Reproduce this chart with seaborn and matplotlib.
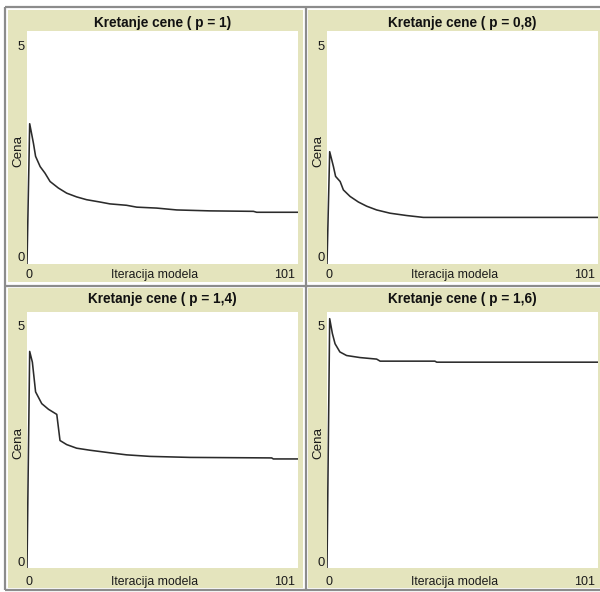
import matplotlib
matplotlib.use("Agg")
import matplotlib.pyplot as plt
from matplotlib.patches import Rectangle
import seaborn as sns

# ---- data: average price per model iteration for four values of p ----
iter_p10 = [0, 1, 2.4, 3.2, 4.9, 6.7, 8.6, 11.7, 14.8, 18.5, 22.2, 27.2, 30.9,
            37.1, 40.9, 48.3, 55.8, 68.2, 84.4, 85.6, 101]
price_p10 = [0, 3.01, 2.59, 2.31, 2.09, 1.95, 1.77, 1.63, 1.52, 1.44, 1.38, 1.33,
             1.29, 1.26, 1.22, 1.20, 1.16, 1.14, 1.13, 1.11, 1.11]

iter_p08 = [0, 1, 2.4, 3.2, 4.9, 6.1, 8.6, 11.7, 14.8, 18.5, 23.5, 29.7, 35.9, 101]
price_p08 = [0, 2.41, 2.09, 1.88, 1.77, 1.59, 1.45, 1.33, 1.24, 1.16, 1.09, 1.04,
             1.00, 1.00]

iter_p14 = [0, 1, 2.0, 3.2, 5.5, 8.0, 11.1, 12.3, 14.8, 18.5, 23.5, 30.9, 37.1,
            45.8, 60.7, 91.2, 91.8, 101]
price_p14 = [0, 4.23, 4.02, 3.44, 3.21, 3.10, 3.00, 2.49, 2.41, 2.34, 2.30, 2.25,
             2.21, 2.18, 2.16, 2.15, 2.13, 2.13]

iter_p16 = [0, 1, 2, 3, 4.8, 7.3, 12.3, 18.5, 19.8, 40.2, 40.9, 101]
price_p16 = [0, 4.87, 4.58, 4.38, 4.22, 4.15, 4.11, 4.08, 4.04, 4.04, 4.02, 4.02]

titles = ["Kretanje cene ( p = 1)", "Kretanje cene ( p = 0,8)",
          "Kretanje cene ( p = 1,4)", "Kretanje cene ( p = 1,6)"]
series = [(iter_p10, price_p10), (iter_p08, price_p08),
          (iter_p14, price_p14), (iter_p16, price_p16)]
x_range = [0, 101]
y_range = [0, 5]
x_label = "Iteracija modela"
y_label = "Cena"

# ---- style ----
sns.set_style("white")
plt.rcParams["font.family"] = ["Liberation Sans", "DejaVu Sans"]

W, H = 600, 592
PANEL_BG = "#e4e4bd"
FRAME = "#8c8c8c"
LINE = "#2b2b2b"
TXT = "#1a1a1a"

fig = plt.figure(figsize=(W / 100, H / 100), dpi=100)
fig.patch.set_facecolor("white")

# background canvas in pixel coordinates for frames and labels
bg = fig.add_axes([0, 0, 1, 1], zorder=0)
bg.set_xlim(0, W)
bg.set_ylim(H, 0)
bg.axis("off")

# frame lines between the plot widgets
for x in (5, 305.8):
    bg.plot([x, x], [7, 590], color=FRAME, lw=1.6, solid_capstyle="butt")
for y in (7, 285.8, 590):
    bg.plot([5, W], [y, y], color=FRAME, lw=1.6, solid_capstyle="butt")

# panel geometry: beige box, white plot area, text baselines
panels = [
    dict(box=(8, 10, 303, 282), area=(27, 31, 298, 264), t=27, xb=278, yb5=50, yb0=261, ylab=151),
    dict(box=(308, 10, 600, 282), area=(327, 31, 598, 264), t=27, xb=278, yb5=50, yb0=261, ylab=151),
    dict(box=(8, 288, 303, 588), area=(27, 312, 298, 568), t=303, xb=585, yb5=330, yb0=566, ylab=443),
    dict(box=(308, 288, 600, 588), area=(327, 312, 598, 568), t=303, xb=585, yb5=330, yb0=566, ylab=443),
]

for geo, title, (xs, ys) in zip(panels, titles, series):
    bx0, by0, bx1, by1 = geo["box"]
    bg.add_patch(Rectangle((bx0, by0), bx1 - bx0, by1 - by0,
                           facecolor=PANEL_BG, edgecolor="none"))
    ax0, ay0, ax1, ay1 = geo["area"]
    ax = fig.add_axes([ax0 / W, 1 - ay1 / H, (ax1 - ax0) / W, (ay1 - ay0) / H],
                      zorder=2)
    ax.set_facecolor("white")
    sns.lineplot(x=xs, y=ys, ax=ax, color=LINE, linewidth=1.15, sort=False)
    ax.set_xlim(*x_range)
    ax.set_ylim(*y_range)
    ax.set_xticks([])
    ax.set_yticks([])
    ax.set_xlabel("")
    ax.set_ylabel("")
    for s in ax.spines.values():
        s.set_visible(False)

    cx = (ax0 + ax1) / 2
    bg.text(cx, geo["t"], title, ha="center", va="baseline",
            fontsize=9.8, fontweight="bold", color="#111111")
    # x axis: min, label, max
    bg.text(ax0 - 1, geo["xb"], str(x_range[0]), ha="left", va="baseline",
            fontsize=9, color=TXT)
    bg.text(ax1 - 3, geo["xb"], str(x_range[1]), ha="right", va="baseline",
            fontsize=9, color=TXT)
    bg.text((ax0 + 4.7 + ax1 - 21.3) / 2, geo["xb"], x_label, ha="center",
            va="baseline", fontsize=8.8, color=TXT)
    # y axis: max, min, label
    bg.text(ax0 - 6, geo["yb5"], str(y_range[1]), ha="center", va="baseline",
            fontsize=9.4, color=TXT)
    bg.text(ax0 - 6, geo["yb0"], str(y_range[0]), ha="center", va="baseline",
            fontsize=9.4, color=TXT)
    bg.text(ax0 - 9, geo["ylab"], y_label, ha="center", va="center",
            rotation=90, fontsize=9.6, color=TXT)

fig.savefig("out.png", dpi=100, facecolor="white")
